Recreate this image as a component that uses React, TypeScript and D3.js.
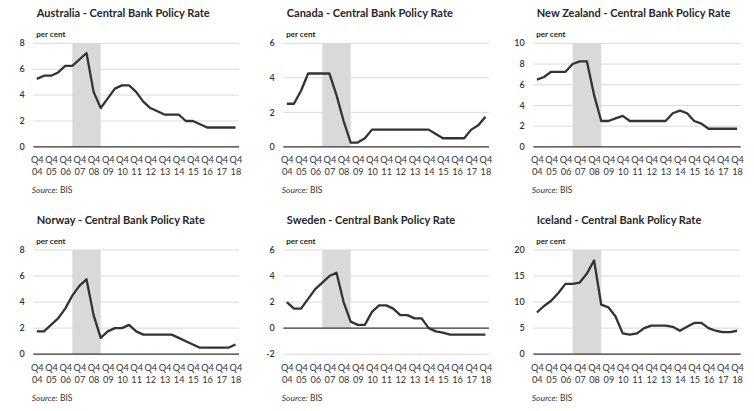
import React from "react";
import * as d3 from "d3";

const periods = [
  "Q4 04", "Q2 05", "Q4 05", "Q2 06", "Q4 06", "Q2 07", "Q4 07", "Q2 08", "Q4 08", "Q2 09",
  "Q4 09", "Q2 10", "Q4 10", "Q2 11", "Q4 11", "Q2 12", "Q4 12", "Q2 13", "Q4 13", "Q2 14",
  "Q4 14", "Q2 15", "Q4 15", "Q2 16", "Q4 16", "Q2 17", "Q4 17", "Q2 18", "Q4 18",
];

const shadeStart = "Q2 07";
const shadeEnd = "Q2 09";

const australia = [5.25, 5.5, 5.5, 5.75, 6.25, 6.25, 6.75, 7.25, 4.25, 3.0, 3.75, 4.5, 4.75, 4.75, 4.25, 3.5, 3.0, 2.75, 2.5, 2.5, 2.5, 2.0, 2.0, 1.75, 1.5, 1.5, 1.5, 1.5, 1.5];
const canada = [2.5, 2.5, 3.25, 4.25, 4.25, 4.25, 4.25, 3.0, 1.5, 0.25, 0.25, 0.5, 1.0, 1.0, 1.0, 1.0, 1.0, 1.0, 1.0, 1.0, 1.0, 0.75, 0.5, 0.5, 0.5, 0.5, 1.0, 1.25, 1.75];
const newZealand = [6.5, 6.75, 7.25, 7.25, 7.25, 8.0, 8.25, 8.25, 5.0, 2.5, 2.5, 2.75, 3.0, 2.5, 2.5, 2.5, 2.5, 2.5, 2.5, 3.25, 3.5, 3.25, 2.5, 2.25, 1.75, 1.75, 1.75, 1.75, 1.75];
const norway = [1.75, 1.75, 2.25, 2.75, 3.5, 4.5, 5.25, 5.75, 3.0, 1.25, 1.75, 2.0, 2.0, 2.25, 1.75, 1.5, 1.5, 1.5, 1.5, 1.5, 1.25, 1.0, 0.75, 0.5, 0.5, 0.5, 0.5, 0.5, 0.75];
const sweden = [2.0, 1.5, 1.5, 2.25, 3.0, 3.5, 4.0, 4.25, 2.0, 0.5, 0.25, 0.25, 1.25, 1.75, 1.75, 1.5, 1.0, 1.0, 0.75, 0.75, 0.0, -0.25, -0.35, -0.5, -0.5, -0.5, -0.5, -0.5, -0.5];
const iceland = [8.0, 9.25, 10.25, 11.75, 13.5, 13.5, 13.75, 15.5, 18.0, 9.5, 9.0, 7.25, 4.0, 3.75, 4.0, 5.0, 5.5, 5.5, 5.5, 5.25, 4.5, 5.25, 6.0, 6.0, 5.0, 4.5, 4.25, 4.25, 4.5];

const ticksAustralia = [0, 2, 4, 6, 8];
const ticksCanada = [0, 2, 4, 6];
const ticksNewZealand = [0, 2, 4, 6, 8, 10];
const ticksNorway = [0, 2, 4, 6, 8];
const ticksSweden = [-2, 0, 2, 4, 6];
const ticksIceland = [0, 5, 10, 15, 20];

const titles = [
  "Australia - Central Bank Policy Rate",
  "Canada - Central Bank Policy Rate",
  "New Zealand - Central Bank Policy Rate",
  "Norway - Central Bank Policy Rate",
  "Sweden - Central Bank Policy Rate",
  "Iceland - Central Bank Policy Rate",
];
const unitLabel = "per cent";
const sourceLabel = "BIS";

const FONT = "Lato, 'DejaVu Sans', sans-serif";
const TEXT = "#333333";
const LINE = "#333333";
const GRID = "#d9d9d9";
const SHADE = "#d9d9d9";

type PanelProps = {
  title: string;
  values: number[];
  ticks: number[];
  left: number;
  right: number;
  top: number;
  bottom: number;
};

function Panel({ title, values, ticks, left, right, top, bottom }: PanelProps) {
  const x = d3.scalePoint<string>().domain(periods).range([left, right]).padding(0.5);
  const y = d3
    .scaleLinear()
    .domain([d3.min(ticks) as number, d3.max(ticks) as number])
    .range([bottom, top]);
  const line = d3
    .line<number>()
    .x((_, i) => x(periods[i]) as number)
    .y((d) => y(d));
  const y0 = y(0);
  const sx0 = x(shadeStart) as number;
  const sx1 = x(shadeEnd) as number;
  return (
    <g>
      <text x={left + 3.5} y={top - 26} fontFamily={FONT} fontWeight={700} fontSize={11} fill="#262626">
        {title}
      </text>
      <text x={left + 3} y={top - 6.5} fontFamily={FONT} fontWeight={700} fontSize={8} fill="#262626">
        {unitLabel}
      </text>
      <rect x={sx0} y={top} width={sx1 - sx0} height={y0 - top} fill={SHADE} />
      {ticks.map((t) => (
        <g key={t}>
          {t !== 0 && <line x1={left} x2={right} y1={y(t)} y2={y(t)} stroke={GRID} strokeWidth={1} />}
          <text
            x={left - 8.5}
            y={y(t)}
            dy="0.35em"
            textAnchor="end"
            fontFamily={FONT}
            fontWeight={600}
            fontSize={9}
            fill={TEXT}
          >
            {t}
          </text>
        </g>
      ))}
      <path d={line(values) || ""} fill="none" stroke={LINE} strokeWidth={2.3} strokeLinejoin="round" />
      <line x1={left} x2={right} y1={y0} y2={y0} stroke="#333333" strokeWidth={1.3} />
      {periods.map((p, i) =>
        i % 2 === 0 ? (
          <text key={p} x={x(p) as number} textAnchor="middle" fontFamily={FONT} fontSize={9.2} fill={TEXT}>
            <tspan x={(x(p) as number) + 0.5} y={bottom + 16.5}>
              {p.split(" ")[0]}
            </tspan>
            <tspan x={(x(p) as number) + 0.5} y={bottom + 28.5}>
              {p.split(" ")[1]}
            </tspan>
          </text>
        ) : null
      )}
      <text x={left - 1.5} y={bottom + 46.5} fontFamily={FONT} fontSize={8.5} fill={TEXT}>
        <tspan fontStyle="italic">Source:</tspan> {sourceLabel}
      </text>
    </g>
  );
}

export default function App() {
  const rows = [
    { top: 43.3, bottom: 146.9 },
    { top: 250, bottom: 354.2 },
  ];
  const cols = [
    { left: 33.3, right: 239 },
    { left: 283.3, right: 489 },
    { left: 533.3, right: 740.7 },
  ];
  const series = [australia, canada, newZealand, norway, sweden, iceland];
  const tickSets = [ticksAustralia, ticksCanada, ticksNewZealand, ticksNorway, ticksSweden, ticksIceland];
  return (
    <svg
      width={754}
      height={411}
      viewBox="0 0 754 411"
      style={{ position: "fixed", left: 0, top: 0, background: "#fff" }}
    >
      <rect width={754} height={411} fill="#fff" />
      {series.map((vals, k) => {
        const r = rows[Math.floor(k / 3)];
        const c = cols[k % 3];
        return (
          <Panel
            key={k}
            title={titles[k]}
            values={vals}
            ticks={tickSets[k]}
            left={c.left}
            right={c.right}
            top={r.top}
            bottom={r.bottom}
          />
        );
      })}
    </svg>
  );
}
